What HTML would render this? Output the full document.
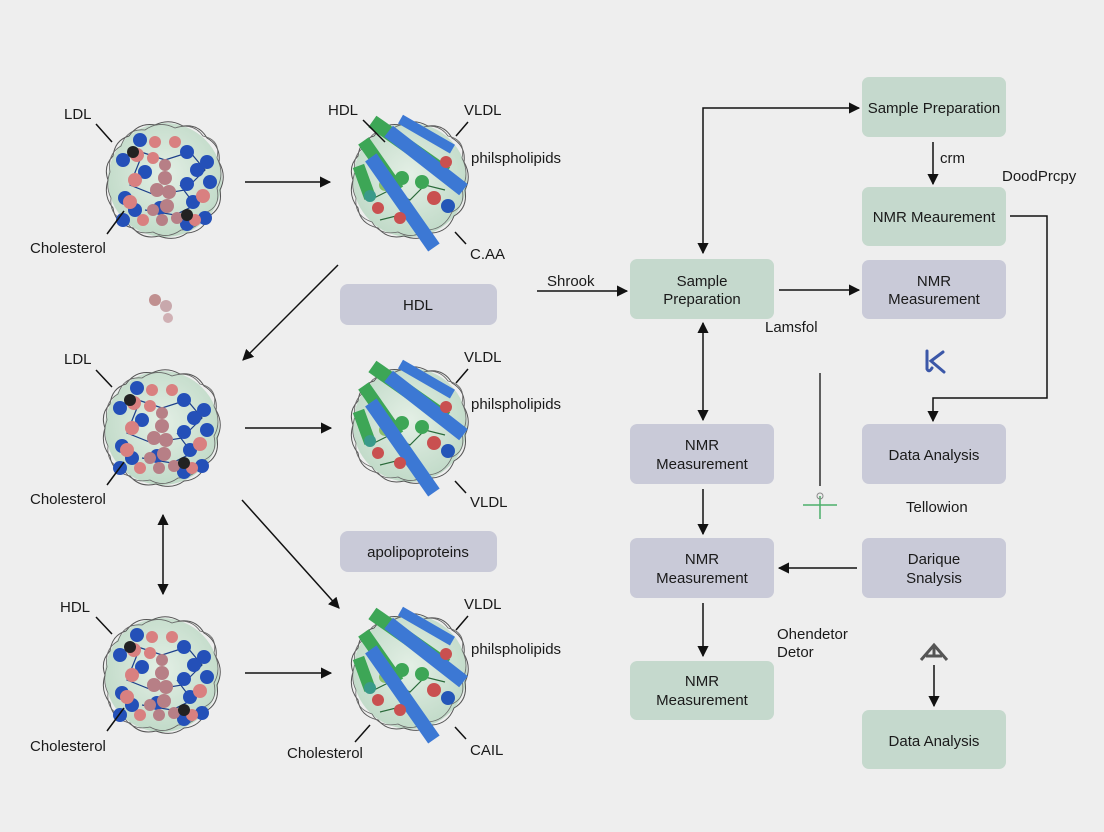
<!DOCTYPE html>
<html><head><meta charset="utf-8"><style>
html,body{margin:0;padding:0;background:#eeeeee;}
svg{display:block;font-family:"Liberation Sans",sans-serif;}
</style></head><body>
<svg width="1104" height="832" viewBox="0 0 1104 832" xmlns="http://www.w3.org/2000/svg">
<defs>
<marker id="ah" viewBox="0 0 10 10" refX="9" refY="5" markerWidth="7.5" markerHeight="7.5" orient="auto-start-reverse"><path d="M0,0 L10,5 L0,10 z" fill="#111"/></marker>
<radialGradient id="bg1" cx="50%" cy="45%" r="55%"><stop offset="0" stop-color="#e2efe4"/><stop offset="1" stop-color="#bcd8c4"/></radialGradient>
<g id="shell">
<circle r="57" fill="url(#bg1)" opacity="0.9"/>
<path d="M-57,0 Q-62,-14 -52,-24 Q-50,-40 -36,-44 Q-26,-58 -10,-55 Q4,-62 18,-54 Q34,-56 42,-42 Q56,-34 54,-18 Q62,-4 55,10 Q58,28 44,36 Q38,52 22,53 Q10,62 -6,56 Q-22,60 -32,48 Q-50,44 -52,28 Q-62,16 -57,0 Z" fill="none" stroke="#555" stroke-width="1"/>
<path d="M-55,-8 Q-58,-26 -44,-34 Q-38,-52 -20,-50 Q-6,-60 10,-52 Q28,-58 38,-44 Q56,-40 52,-22 Q60,-6 52,8 Q56,26 42,32 Q34,50 16,50 Q2,60 -12,52 Q-30,56 -38,42 Q-56,36 -54,18 Q-60,6 -55,-8 Z" fill="none" stroke="#666" stroke-width="0.8"/>
</g>
<g id="lip">
<use href="#shell"/>
<g stroke="#1d3f8a" stroke-width="1.2" fill="none"><path d="M-30,-30 L0,-20 L25,-28 L40,-10 L20,10 L-10,15 L-35,5 L-25,-20"/><path d="M-20,30 L10,35 L30,25 L15,5"/></g>
<g fill="#2450b8">
<circle cx="-42" cy="-20" r="7"/><circle cx="-25" cy="-40" r="7"/><circle cx="-20" cy="-8" r="7"/><circle cx="22" cy="-28" r="7"/><circle cx="32" cy="-10" r="7"/><circle cx="42" cy="-18" r="7"/><circle cx="45" cy="2" r="7"/><circle cx="22" cy="4" r="7"/><circle cx="-40" cy="18" r="7"/><circle cx="-30" cy="30" r="7"/><circle cx="-5" cy="28" r="7"/><circle cx="28" cy="22" r="7"/><circle cx="40" cy="38" r="7"/><circle cx="22" cy="44" r="7"/><circle cx="-42" cy="40" r="7"/>
</g>
<g fill="#d98080">
<circle cx="-28" cy="-25" r="7"/><circle cx="-10" cy="-38" r="6"/><circle cx="-12" cy="-22" r="6"/><circle cx="-30" cy="0" r="7"/><circle cx="-35" cy="22" r="7"/><circle cx="38" cy="16" r="7"/><circle cx="30" cy="40" r="6"/><circle cx="-22" cy="40" r="6"/><circle cx="10" cy="-38" r="6"/>
</g>
<g fill="#b77f86"><circle cx="0" cy="-15" r="6"/><circle cx="0" cy="-2" r="7"/><circle cx="-8" cy="10" r="7"/><circle cx="4" cy="12" r="7"/><circle cx="2" cy="26" r="7"/><circle cx="-12" cy="30" r="6"/><circle cx="12" cy="38" r="6"/><circle cx="-3" cy="40" r="6"/></g>
<circle cx="-32" cy="-28" r="6" fill="#222"/><circle cx="22" cy="35" r="6" fill="#222"/>
</g>
<g id="pro">
<use href="#shell"/>
<g stroke="#2a6a3a" stroke-width="1.2" fill="none"><path d="M-40,20 L-20,10 L0,20 L15,5 L35,10"/><path d="M-30,40 L-10,35 L10,45"/></g>
<g fill="#3da656">
<circle cx="-8" cy="-2" r="7"/><circle cx="12" cy="2" r="7"/><circle cx="-25" cy="5" r="6" fill="#8bbf6a"/>
<rect x="-10" y="-8" width="90" height="14" transform="translate(-30,-52) rotate(35)"/>
<rect x="-10" y="-8" width="60" height="13" transform="translate(-42,-30) rotate(55)"/>
<rect x="-10" y="-8" width="34" height="12" transform="translate(-50,-4) rotate(70)"/>
</g>
<g fill="#3c78d4">
<rect x="0" y="-8" width="95" height="14" transform="translate(-22,-48) rotate(38)"/>
<rect x="0" y="-8" width="110" height="14" transform="translate(-40,-22) rotate(55)"/>
<rect x="0" y="-6" width="60" height="10" transform="translate(-10,-60) rotate(30)"/>
</g>
<g fill="#c95050"><circle cx="-32" cy="28" r="6"/><circle cx="-10" cy="38" r="6"/><circle cx="24" cy="18" r="7"/><circle cx="36" cy="-18" r="6"/></g>
<circle cx="38" cy="26" r="7" fill="#2456b8"/>
<circle cx="-40" cy="16" r="6" fill="#3a9a8a"/>
</g>
</defs>

<use href="#lip" x="165" y="180"/>
<use href="#lip" x="162" y="428"/>
<use href="#lip" x="162" y="675"/>
<use href="#pro" x="410" y="180"/>
<use href="#pro" x="410" y="425"/>
<use href="#pro" x="410" y="672"/>

<g fill="#c09090"><circle cx="155" cy="300" r="6"/><circle cx="166" cy="306" r="6" fill="#c8a8ac"/><circle cx="168" cy="318" r="5" fill="#d0b0b4"/></g>

<g stroke="#111" stroke-width="1.5" fill="none">
<line x1="96" y1="124" x2="112" y2="142"/><line x1="96" y1="370" x2="112" y2="387"/><line x1="96" y1="617" x2="112" y2="634"/>
<line x1="107" y1="234" x2="124" y2="211"/><line x1="107" y1="485" x2="124" y2="462"/><line x1="107" y1="731" x2="124" y2="708"/>
<line x1="363" y1="120" x2="385" y2="142"/>
<line x1="456" y1="136" x2="468" y2="122"/><line x1="456" y1="383" x2="468" y2="369"/><line x1="456" y1="630" x2="468" y2="616"/>
<line x1="455" y1="232" x2="466" y2="244"/><line x1="455" y1="481" x2="466" y2="493"/><line x1="455" y1="727" x2="466" y2="739"/>
<line x1="355" y1="742" x2="370" y2="725"/>
</g>

<g stroke="#111" stroke-width="1.5" fill="none" marker-end="url(#ah)">
<line x1="245" y1="182" x2="330" y2="182"/>
<line x1="338" y1="265" x2="243" y2="360"/>
<line x1="245" y1="428" x2="331" y2="428"/>
<line x1="242" y1="500" x2="339" y2="608"/>
<line x1="245" y1="673" x2="331" y2="673"/>
<line x1="163" y1="515" x2="163" y2="594" marker-start="url(#ah)"/>
<line x1="537" y1="291" x2="627" y2="291"/>
<polyline points="703,253 703,108 859,108" marker-start="url(#ah)"/>
<line x1="933" y1="142" x2="933" y2="184"/>
<polyline points="1010,216 1047,216 1047,398 933,398 933,421"/>
<line x1="779" y1="290" x2="859" y2="290"/>
<line x1="703" y1="323" x2="703" y2="420" marker-start="url(#ah)"/>
<line x1="703" y1="489" x2="703" y2="534"/>
<line x1="857" y1="568" x2="779" y2="568"/>
<line x1="703" y1="603" x2="703" y2="656"/>
<line x1="934" y1="665" x2="934" y2="706"/>
</g>
<line x1="820" y1="373" x2="820" y2="486" stroke="#111" stroke-width="1.3"/>
<g stroke="#4caf6a" stroke-width="1.5"><line x1="803" y1="505" x2="837" y2="505"/><line x1="820" y1="496" x2="820" y2="519"/></g>
<circle cx="820" cy="496" r="3" fill="none" stroke="#888" stroke-width="1"/>
<path d="M927,351 L927,369 Q929,373 932,368 M943,352 L931,361 L944,372" stroke="#3b57a8" stroke-width="3" fill="none" stroke-linecap="round"/>
<path d="M921,660 L934,645 L947,660 M934,646 L934,656 M926,656 L942,656" stroke="#555" stroke-width="3" fill="none"/>

<g fill="#c9cad8">
<rect x="340" y="284" width="157" height="41" rx="8"/>
<rect x="340" y="531" width="157" height="41" rx="8"/>
<rect x="862" y="260" width="144" height="59" rx="7"/>
<rect x="630" y="424" width="144" height="60" rx="7"/>
<rect x="630" y="538" width="144" height="60" rx="7"/>
<rect x="862" y="424" width="144" height="60" rx="7"/>
<rect x="862" y="538" width="144" height="60" rx="7"/>
</g>
<g fill="#c5d9cd">
<rect x="862" y="77" width="144" height="60" rx="7"/>
<rect x="862" y="187" width="144" height="59" rx="7"/>
<rect x="630" y="259" width="144" height="60" rx="7"/>
<rect x="630" y="661" width="144" height="59" rx="7"/>
<rect x="862" y="710" width="144" height="59" rx="7"/>
</g>

<g font-size="15" fill="#1a1a1a">
<text x="64" y="119">LDL</text><text x="30" y="253">Cholesterol</text>
<text x="328" y="115">HDL</text><text x="464" y="115">VLDL</text><text x="471" y="163">philspholipids</text><text x="470" y="259">C.AA</text>
<text x="64" y="364">LDL</text><text x="30" y="504">Cholesterol</text>
<text x="464" y="362">VLDL</text><text x="471" y="409">philspholipids</text><text x="470" y="507">VLDL</text>
<text x="60" y="612">HDL</text><text x="30" y="751">Cholesterol</text>
<text x="464" y="609">VLDL</text><text x="471" y="654">philspholipids</text><text x="287" y="758">Cholesterol</text><text x="470" y="755">CAIL</text>
<text x="547" y="286">Shrook</text>
<text x="940" y="163">crm</text>
<text x="1002" y="181">DoodPrcpy</text>
<text x="765" y="332">Lamsfol</text>
<text x="906" y="512">Tellowion</text>
<text x="777" y="639">Ohendetor</text><text x="777" y="657">Detor</text>
</g>
<g font-size="15" fill="#1a1a1a" text-anchor="middle">
<text x="418" y="310">HDL</text>
<text x="418" y="557">apolipoproteins</text>
<text x="934" y="113">Sample Preparation</text>
<text x="934" y="222">NMR Meaurement</text>
<text x="934" y="286">NMR</text><text x="934" y="304">Measurement</text>
<text x="702" y="286">Sample</text><text x="702" y="304">Preparation</text>
<text x="702" y="450">NMR</text><text x="702" y="469">Measurement</text>
<text x="702" y="564">NMR</text><text x="702" y="583">Measurement</text>
<text x="702" y="686">NMR</text><text x="702" y="705">Measurement</text>
<text x="934" y="460">Data Analysis</text>
<text x="934" y="564">Darique</text><text x="934" y="583">Snalysis</text>
<text x="934" y="746">Data Analysis</text>
</g>
</svg>
</body></html>
